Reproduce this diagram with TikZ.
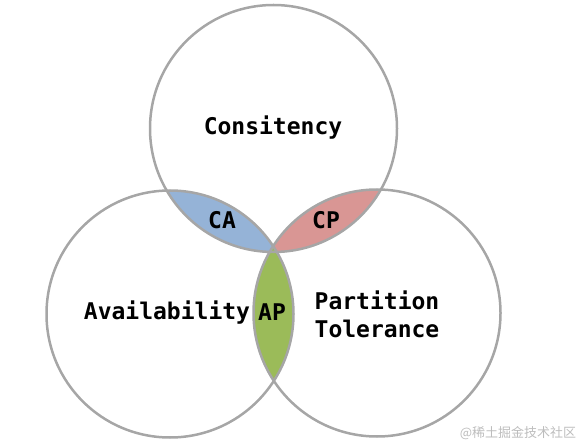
\documentclass[tikz,border=0pt]{standalone}
\usepackage{fontspec}
\newfontfamily\monofont{DejaVu Sans Mono}
\newfontfamily\cjkfont{Noto Sans CJK SC}
\definecolor{ringgray}{HTML}{A6A6A6}
\definecolor{cablue}{HTML}{95B3D7}
\definecolor{cpred}{HTML}{D99694}
\definecolor{apgreen}{HTML}{9BBB59}
\definecolor{wmgray}{HTML}{BDBDBD}
\begin{document}
\begin{tikzpicture}[x=1pt,y=1pt,
  ring/.style={draw=ringgray,line width=2.5pt},
  lbl/.style={font=\monofont\fontsize{23}{28}\selectfont\bfseries,text=black,inner sep=0pt}]
\useasboundingbox (0,0) rectangle (578,445);
\coordinate (ct) at (273.5,316.5);
\coordinate (cl) at (170,131);
\coordinate (cr) at (377,132);
\def\rad{123.5}
% lenses
\begin{scope}
  \clip (ct) circle (\rad);
  \fill[cablue] (cl) circle (\rad);
\end{scope}
\begin{scope}
  \clip (ct) circle (\rad);
  \fill[cpred] (cr) circle (\rad);
\end{scope}
\begin{scope}
  \clip (cl) circle (\rad);
  \fill[apgreen] (cr) circle (\rad);
\end{scope}
% rings
\draw[ring] (ct) circle (\rad);
\draw[ring] (cl) circle (\rad);
\draw[ring] (cr) circle (\rad);
% labels
\node[lbl] (cons) at (273,317) {Consitency};
\node[lbl] (ca) at (222,225) {CA};
\node[lbl] (cp) at (326,225) {CP};
\node[lbl] (ap) at (272,133) {AP};
\node[lbl] (avail) at (167,132) {Availability};
\node[lbl,align=left] (part) at (377,131) {Partition\\Tolerance};
\node[font=\cjkfont\fontsize{13}{15}\selectfont,text=wmgray,inner sep=0pt] (wm) at (518,12) {@稀土掘金技术社区};
\end{tikzpicture}
\end{document}
